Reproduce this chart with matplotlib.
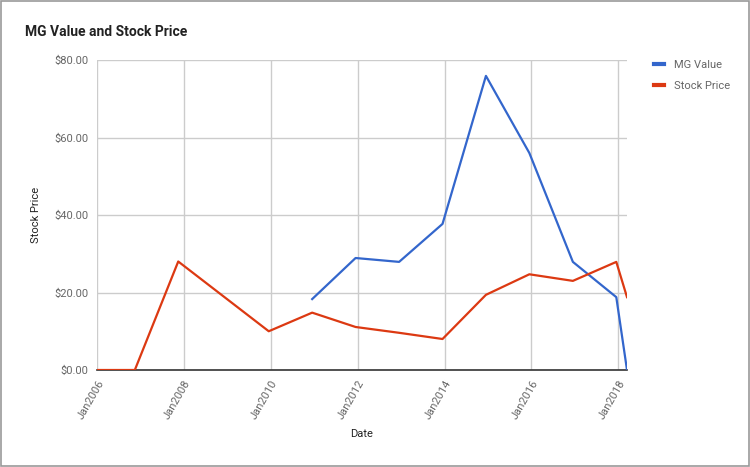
import matplotlib
matplotlib.use("Agg")
import matplotlib.pyplot as plt
import matplotlib.dates as mdates
from matplotlib.patches import Rectangle
import datetime as dt

plt.rcParams['font.family'] = ['Roboto', 'DejaVu Sans']

price_dates = ["2006-01-01", "2006-11-15", "2007-11-15", "2009-12-15", "2010-12-15",
               "2011-12-15", "2012-12-15", "2013-12-15", "2014-12-15", "2015-12-15",
               "2016-12-15", "2017-12-15", "2018-03-15"]
price_values = [0.0, 0.0, 28.0, 10.0, 14.8, 11.1, 9.6, 8.0, 19.4, 24.7, 23.0, 27.9, 18.8]

mg_dates = ["2010-12-15", "2011-12-15", "2012-12-15", "2013-12-15", "2014-12-15",
            "2015-12-15", "2016-12-15", "2017-12-15", "2018-03-15"]
mg_values = [18.3, 28.9, 27.9, 37.7, 75.9, 56.0, 27.9, 18.8, 0.0]

tick_years = [2006, 2008, 2010, 2012, 2014, 2016, 2018]
y_ticks = [0, 20, 40, 60, 80]

to_dt = lambda s: dt.datetime.strptime(s, "%Y-%m-%d")

fig = plt.figure(figsize=(7.5, 4.67), dpi=100)
ax = fig.add_axes([97/750, 1-370/467, 530/750, 310/467])

ax.plot([to_dt(d) for d in mg_dates], mg_values, color="#3366cc", lw=1.6, label="MG Value", zorder=3)
ax.plot([to_dt(d) for d in price_dates], price_values, color="#dc3912", lw=1.6, label="Stock Price", zorder=3)

ax.set_xlim(dt.datetime(2006, 1, 1), dt.datetime(2018, 3, 15))
ax.set_ylim(0, 80)
ax.set_xticks([dt.datetime(y, 1, 1) for y in tick_years])
ax.set_xticklabels([f"Jan{y}" for y in tick_years], rotation=60, ha="right",
                   rotation_mode="anchor", color="#666666", fontsize=8)
ax.set_yticks(y_ticks)
ax.set_yticklabels([f"${v:.2f}" for v in y_ticks], color="#666666", fontsize=8)
ax.tick_params(length=0, pad=6)
ax.grid(True, color="#cccccc", lw=1)
ax.set_axisbelow(True)
for s in ["top", "right", "left"]:
    ax.spines[s].set_visible(False)
ax.spines["bottom"].set_color("#333333")
ax.spines["bottom"].set_linewidth(1.2)
ax.spines["bottom"].set_zorder(2.5)

ax.set_xlabel("Date", color="#222222", fontsize=8, labelpad=6)
ax.set_ylabel("Stock Price", color="#222222", fontsize=8, labelpad=10)

fig.text(25/750, 1-32/467, "MG Value and Stock Price", fontsize=10, fontweight="bold",
         color="#222222", va="center", ha="left")

leg = fig.legend(loc="upper left", bbox_to_anchor=(644/750, 1-50/467), frameon=False,
                 fontsize=8, handlelength=0.9, handletextpad=0.9, labelspacing=0.95,
                 labelcolor="#666666")
for h in leg.get_lines():
    h.set_linewidth(3)

fig.patches.append(Rectangle((0.001, 0.002), 0.997, 0.995, transform=fig.transFigure,
                             fill=False, edgecolor="#999999", lw=1.2))

fig.savefig("out.png", dpi=100)
